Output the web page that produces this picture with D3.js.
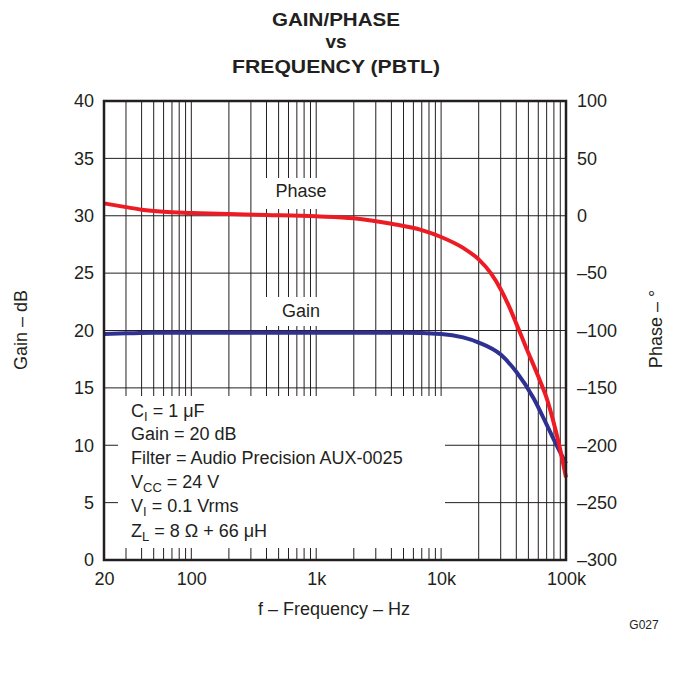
<!DOCTYPE html>
<html><head><meta charset="utf-8">
<script src="https://cdn.jsdelivr.net/npm/d3@7"></script>
<style>
html,body{margin:0;padding:0;background:#fff;}
svg{display:block;font-family:"Liberation Sans",Arial,Helvetica,sans-serif;}
</style></head>
<body><svg id="c" width="677" height="687"></svg>
<script>
// ---- data ----
const freqGain = [20,30,50,100,200,500,1000,2000,5000,10000,15000,20000,30000,40000,55000,70000,85000,100000];
const gainDb   = [19.7,19.75,19.8,19.8,19.8,19.8,19.8,19.8,19.8,19.7,19.4,18.95,17.9,16.4,14.1,11.8,9.9,8.4];
const freqPhase = [20,30,40,60,100,200,400,1000,2000,4000,7000,10000,15000,20000,25000,30000,35000,40000,48000,62000,70000,80000,87000,100000];
const phaseDeg  = [10.8,7.5,5.3,3.5,2.5,1.5,0.7,-0.5,-2.2,-7,-12.5,-18.5,-28,-38,-50,-64,-79,-94,-115,-144,-159,-181,-197,-228];
const gainTicks = [0,5,10,15,20,25,30,35,40];
const phaseTicks = [-300,-250,-200,-150,-100,-50,0,50,100];
const freqTicks = [20,100,1000,10000,100000];
const freqTickLabels = ["20","100","1k","10k","100k"];
const titleLines = ["GAIN/PHASE","vs","FREQUENCY (PBTL)"];

const svg = d3.select("#c");
const X0=104, X1=566, Y0=101, Y1=560;
const x = d3.scaleLog().domain([20,100000]).range([X0,X1]);
const yG = d3.scaleLinear().domain([0,40]).range([Y1,Y0]);
const yP = d3.scaleLinear().domain([-300,100]).range([Y1,Y0]);
const ink = "#231f20";

// grid
const vgrid = [];
[10,100,1000,10000].forEach(d=>{for(let k=1;k<=9;k++){const v=k*d; if(v>20 && v<100000) vgrid.push(v);}});
const g = svg.append("g");
g.selectAll("line.v").data(vgrid).join("line")
  .attr("x1",d=>x(d)).attr("x2",d=>x(d)).attr("y1",Y0).attr("y2",Y1)
  .attr("stroke",ink).attr("stroke-width",1);
g.selectAll("line.h").data(gainTicks.slice(1,-1)).join("line")
  .attr("x1",X0).attr("x2",X1).attr("y1",d=>yG(d)).attr("y2",d=>yG(d))
  .attr("stroke",ink).attr("stroke-width",1);

// white label boxes
const boxes = [[256,178,94,31],[256,297,94,29],[118,396,327,152]];
svg.append("g").selectAll("rect").data(boxes).join("rect")
  .attr("x",d=>d[0]).attr("y",d=>d[1]).attr("width",d=>d[2]).attr("height",d=>d[3]).attr("fill","#fff");

// curves
const lineG = d3.line().x((d,i)=>x(freqGain[i])).y(d=>yG(d)).curve(d3.curveMonotoneX);
const lineP = d3.line().x((d,i)=>x(freqPhase[i])).y(d=>yP(d)).curve(d3.curveMonotoneX);
svg.append("path").attr("d",lineG(gainDb)).attr("fill","none").attr("stroke","#2e3192").attr("stroke-width",4);
svg.append("path").attr("d",lineP(phaseDeg)).attr("fill","none").attr("stroke","#ed1c24").attr("stroke-width",4);

// frame
svg.append("rect").attr("x",X0).attr("y",Y0).attr("width",X1-X0).attr("height",Y1-Y0)
  .attr("fill","none").attr("stroke",ink).attr("stroke-width",2.5);

// axes labels via d3 axes
const fs = 18;
const axL = svg.append("g").attr("transform",`translate(${X0},0)`)
  .call(d3.axisLeft(yG).tickValues(gainTicks).tickSize(0).tickPadding(10));
const axR = svg.append("g").attr("transform",`translate(${X1},0)`)
  .call(d3.axisRight(yP).tickValues(phaseTicks).tickSize(0).tickPadding(11)
  .tickFormat(d=> d<0 ? "\u2013"+Math.abs(d) : String(d)));
const axB = svg.append("g").attr("transform",`translate(0,${Y1})`)
  .call(d3.axisBottom(x).tickValues(freqTicks).tickSize(0).tickPadding(12)
  .tickFormat((d,i)=>freqTickLabels[i]));
[axL,axR,axB].forEach(a=>{
  a.select(".domain").remove();
  a.selectAll("text").attr("font-size",fs).attr("fill",ink).attr("font-family",'"Liberation Sans",Arial,sans-serif');
});

// title
const tl = svg.append("g").attr("font-weight","bold").attr("font-size",19).attr("fill",ink).attr("text-anchor","middle");
const tY=[26,48,73], tW=[128,null,208];
titleLines.forEach((t,i)=>{
  const e = tl.append("text").attr("x",336).attr("y",tY[i]).text(t);
  if(tW[i]) e.attr("textLength",tW[i]).attr("lengthAdjust","spacingAndGlyphs");
});

// axis titles
svg.append("text").attr("transform","translate(27,330) rotate(-90)").attr("text-anchor","middle")
  .attr("font-size",fs).attr("fill",ink).text("Gain \u2013 dB");
svg.append("text").attr("transform","translate(662,329) rotate(-90)").attr("text-anchor","middle")
  .attr("font-size",fs).attr("fill",ink).text("Phase \u2013 \u00b0");
svg.append("text").attr("x",334).attr("y",615).attr("text-anchor","middle")
  .attr("font-size",fs).attr("fill",ink).text("f \u2013 Frequency \u2013 Hz");
svg.append("text").attr("x",644).attr("y",629).attr("text-anchor","middle")
  .attr("font-size",12).attr("fill",ink).text("G027");

// curve labels
svg.append("text").attr("x",301).attr("y",197).attr("text-anchor","middle").attr("font-size",fs).attr("fill",ink).text("Phase");
svg.append("text").attr("x",301).attr("y",317).attr("text-anchor","middle").attr("font-size",fs).attr("fill",ink).text("Gain");

// annotation block
const ann = [
  [["C",""],["I","sub"],[" = 1 \u03bcF",""]],
  [["Gain = 20 dB",""]],
  [["Filter = Audio Precision AUX-0025",""]],
  [["V",""],["CC","sub"],[" = 24 V",""]],
  [["V",""],["I","sub"],[" = 0.1 Vrms",""]],
  [["Z",""],["L","sub"],[" = 8 \u03a9 + 66 \u03bcH",""]]
];
const annY = [417,440,464,488,512,537];
ann.forEach((parts,i)=>{
  const t = svg.append("text").attr("x",131).attr("y",annY[i]).attr("font-size",fs).attr("fill",ink);
  parts.forEach(p=>{
    const s = t.append("tspan").text(p[0]);
    if(p[1]==="sub") s.attr("font-size",13).attr("dy",4);
    else if(t.node().childNodes.length>1 && t.node().childNodes[t.node().childNodes.length-2].getAttribute("dy")==="4") s.attr("dy",-4);
  });
});
</script></body></html>
